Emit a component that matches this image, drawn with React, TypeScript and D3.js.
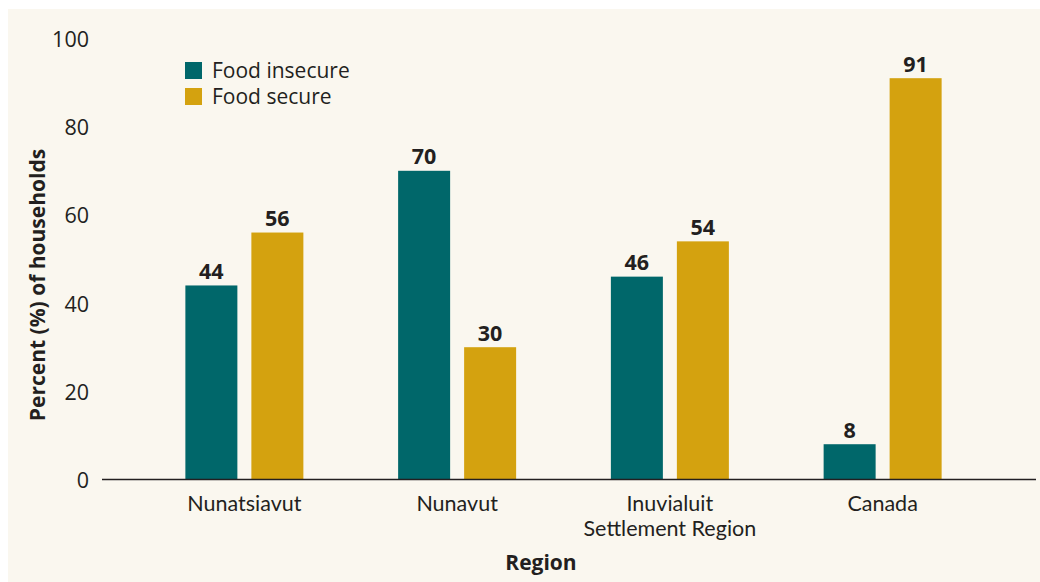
import React from "react";
import * as d3 from "d3";

const regions = ["Nunatsiavut", "Nunavut", "Inuvialuit Settlement Region", "Canada"];
const regionLines = [["Nunatsiavut"], ["Nunavut"], ["Inuvialuit", "Settlement Region"], ["Canada"]];
const seriesNames = ["Food insecure", "Food secure"];
const foodInsecure = [44, 70, 46, 8];
const foodSecure = [56, 30, 54, 91];
const yTicks = [0, 20, 40, 60, 80, 100];

const W = 1040;
const H = 582;
const colors = ["#00676a", "#d4a20f"];
const textColor = "#231f20";
const font = "'Open Sans', 'Noto Sans', sans-serif";
const labelFont = "Lato, 'Open Sans', sans-serif";

export default function App() {
  const x = d3.scaleBand<string>().domain(regions).range([138, 989]).paddingInner(0).paddingOuter(0);
  const y = d3.scaleLinear().domain([0, 100]).range([479.5, 38.5]);
  const bw0 = x.bandwidth();
  const x1 = d3
    .scaleBand<string>()
    .domain(seriesNames)
    .range([(bw0 - 118) / 2, (bw0 + 118) / 2])
    .paddingInner(14 / 66)
    .paddingOuter(0);
  const series = [foodInsecure, foodSecure];

  return (
    <svg
      width={W}
      height={H}
      style={{ display: "block", position: "fixed", left: 0, top: 0 }}
      fontFamily={font}
    >
      <rect x={0} y={0} width={W} height={H} fill="#ffffff" />
      <rect x={8} y={9} width={W - 8} height={H - 9} fill="#faf7ef" />
      {yTicks.map((t) => (
        <text key={t} x={89} y={y(t) + 8.5} textAnchor="end" fontSize={21.5} fill={textColor}>
          {t}
        </text>
      ))}
      {regions.map((r, i) =>
        series.map((s, j) => {
          const bx = (x(r) as number) + (x1(seriesNames[j]) as number);
          const bw = x1.bandwidth();
          return (
            <g key={r + j}>
              <rect x={bx} y={y(s[i])} width={bw} height={y(0) - y(s[i])} fill={colors[j]} />
              <text x={bx + bw / 2} y={y(s[i]) - 6.5} textAnchor="middle" fontSize={21.5} fontWeight="bold" fill={textColor}>
                {s[i]}
              </text>
            </g>
          );
        })
      )}
      <line x1={102} x2={1036} y1={y(0)} y2={y(0)} stroke={textColor} strokeWidth={1.5} />
      {regions.map((r, i) => {
        const cx = (x(r) as number) + x.bandwidth() / 2;
        return (
          <text key={r} x={cx} y={511} textAnchor="middle" fontSize={21.5} fontFamily={labelFont} fill={textColor}>
            {regionLines[i].map((ln, k) => (
              <tspan key={k} x={cx} dy={k === 0 ? 0 : 24.5}>
                {ln}
              </tspan>
            ))}
          </text>
        );
      })}
      <text x={541} y={570} textAnchor="middle" fontSize={21} fontWeight="bold" fill={textColor}>
        Region
      </text>
      <text transform={`translate(45,285) rotate(-90)`} textAnchor="middle" fontSize={21} fontWeight="bold" fill={textColor}>
        Percent (%) of households
      </text>
      {seriesNames.map((n, j) => (
        <g key={n}>
          <rect x={185} y={62 + j * 26} width={17} height={17} fill={colors[j]} />
          <text x={212} y={78 + j * 26} fontSize={21} fill={textColor}>
            {n}
          </text>
        </g>
      ))}
    </svg>
  );
}
